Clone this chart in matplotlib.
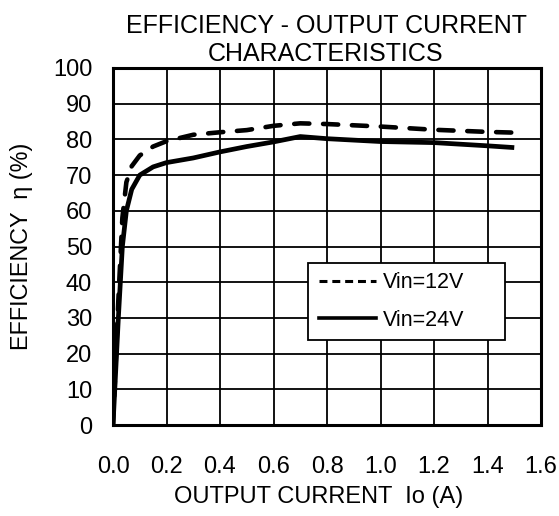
import matplotlib
matplotlib.use("Agg")
import matplotlib.pyplot as plt
from matplotlib.lines import Line2D
from matplotlib.patches import Rectangle

plt.rcParams['font.family'] = ['Liberation Sans', 'DejaVu Sans']

# Data
io_12v = [0, 0.02, 0.035, 0.05, 0.07, 0.1, 0.15, 0.2, 0.3, 0.4, 0.5, 0.6, 0.7, 0.8, 1.0, 1.2, 1.4, 1.5]
eff_12v = [0, 35, 58, 68, 72.5, 75.5, 78, 79.5, 81.3, 82, 82.6, 83.8, 84.5, 84.3, 83.6, 82.7, 82.1, 81.9]
io_24v = [0, 0.02, 0.035, 0.05, 0.07, 0.1, 0.15, 0.2, 0.3, 0.4, 0.5, 0.6, 0.7, 0.8, 1.0, 1.2, 1.4, 1.5]
eff_24v = [0, 30, 50, 60, 66, 70, 72.3, 73.5, 74.8, 76.5, 78, 79.3, 80.8, 80.2, 79.4, 79.1, 78.2, 77.7]
labels = ['Vin=12V', 'Vin=24V']
x_ticks = [0.0, 0.2, 0.4, 0.6, 0.8, 1.0, 1.2, 1.4, 1.6]
y_ticks = [0, 10, 20, 30, 40, 50, 60, 70, 80, 90, 100]

fig = plt.figure(figsize=(5.59, 5.16), dpi=100)
ax = fig.add_axes([113/559, 1-425/516, (541-113)/559, (425-68)/516])

ax.plot(io_12v, eff_12v, color='black', lw=3.3, linestyle=(0, (3.3, 3.0)),
        dash_capstyle='round', zorder=3)
ax.plot(io_24v, eff_24v, color='black', lw=3.4, solid_capstyle='butt', zorder=3)

ax.set_xlim(0, 1.6)
ax.set_ylim(0, 100)
ax.set_xticks(x_ticks)
ax.set_xticklabels([f"{v:.1f}" for v in x_ticks])
ax.set_yticks(y_ticks)
ax.tick_params(axis='both', length=0, labelsize=17)
ax.tick_params(axis='x', pad=22)
ax.tick_params(axis='y', pad=15)
ax.grid(True, color='black', lw=1.3, zorder=1)
ax.set_axisbelow(True)
for s in ax.spines.values():
    s.set_linewidth(2.2)
    s.set_zorder(5)

# legend frame
rect = Rectangle((0.729, 23.8), 1.465-0.729, 45.4-23.8, facecolor='white',
                 edgecolor='black', lw=1.3, zorder=4)
ax.add_patch(rect)
handles = [Line2D([], [], color='black', lw=2.2, linestyle=(0, (2.6, 1.6))),
           Line2D([], [], color='black', lw=2.6)]
leg = ax.legend(handles, labels, loc='center left',
                bbox_to_anchor=((0.729 + 0.04)/1.6, 34.6/100),
                frameon=False, fontsize=15.5, handlelength=2.65,
                handletextpad=0.33, labelspacing=0.78, borderpad=0,
                borderaxespad=0)
leg.set_zorder(6)

fig.text(326/559, 1-66/516, 'EFFICIENCY - OUTPUT CURRENT\nCHARACTERISTICS',
         ha='center', va='bottom', fontsize=18, linespacing=1.22)
fig.text(319/559, 1-497/516, 'OUTPUT CURRENT  Io (A)', ha='center', va='center',
         fontsize=17)
fig.text(22/559, 1-246/516, 'EFFICIENCY  η (%)', ha='center', va='center',
         rotation=90, fontsize=16.8)

fig.savefig('out.png', dpi=100)
